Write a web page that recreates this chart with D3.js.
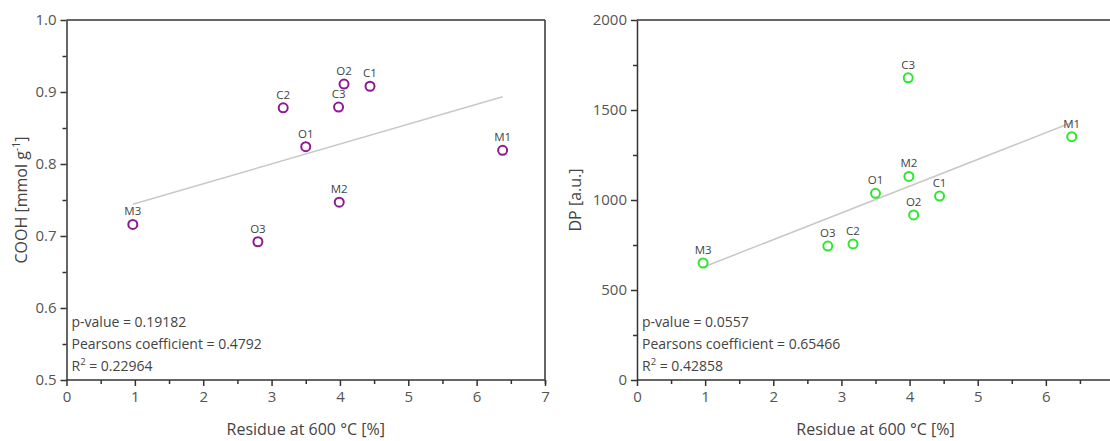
<!DOCTYPE html>
<html><head><meta charset="utf-8">
<script src="https://cdn.jsdelivr.net/npm/d3@7"></script>
<style>
body{margin:0;background:#fff;}
svg{display:block;font-family:"Open Sans",sans-serif;}
</style></head>
<body><svg id="c" width="1110" height="441"></svg>
<script>
const samples = ["M3","O3","C2","O1","C3","M2","O2","C1","M1"];
const residue = [0.97, 2.80, 3.17, 3.50, 3.98, 3.99, 4.06, 4.44, 6.38];
const cooh = [0.716, 0.692, 0.878, 0.824, 0.879, 0.747, 0.911, 0.908, 0.819];
const dp = [650, 744, 756, 1037, 1679, 1131, 917, 1022, 1352];
const statsLeft = ["p-value = 0.19182", "Pearsons coefficient = 0.4792", "0.22964"];
const statsRight = ["p-value = 0.0557", "Pearsons coefficient = 0.65466", "0.42858"];
const xTicksLeft = [0,1,2,3,4,5,6,7];
const xTicksRight = [0,1,2,3,4,5,6];
const yTicksLeft = [0.5,0.6,0.7,0.8,0.9,1.0];
const yTicksRight = [0,500,1000,1500,2000];

const svg = d3.select("#c");

function regression(xs, ys){
  const mx = d3.mean(xs), my = d3.mean(ys);
  let sxy = 0, sxx = 0;
  xs.forEach((x,i)=>{sxy += (x-mx)*(ys[i]-my); sxx += (x-mx)*(x-mx);});
  const b = sxy/sxx; return {a: my - b*mx, b};
}

function panel(opt){
  const g = svg.append("g");
  const x = d3.scaleLinear().domain([0,7]).range([opt.x0, opt.x1]);
  const y = d3.scaleLinear().domain(opt.ydom).range([380, 20]);
  const axisColor = "#333";
  g.append("line").attr("x1", x(0)).attr("x2", x(7)).attr("y1", y(opt.ydom[1])).attr("y2", y(opt.ydom[1]))
    .attr("stroke", axisColor).attr("stroke-width", 1.5);
  g.append("line").attr("x1", x(7)).attr("x2", x(7)).attr("y1", 20).attr("y2", 380)
    .attr("stroke", axisColor).attr("stroke-width", 1.5);
  const xMinor = d3.range(0.5, 7, 1);
  const yMinor = d3.range(0, opt.ytickVals.length-1).map(i => (opt.ytickVals[i]+opt.ytickVals[i+1])/2);
  const xm = g.append("g").attr("transform", `translate(0,380)`)
    .call(d3.axisBottom(x).tickValues(xMinor.concat([7])).tickSize(4).tickSizeOuter(0).tickFormat(""));
  const ym = g.append("g").attr("transform", `translate(${x(0)},0)`)
    .call(d3.axisLeft(y).tickValues(yMinor).tickSize(4).tickSizeOuter(0).tickFormat(""));
  [xm, ym].forEach(a => { a.select(".domain").remove(); a.selectAll("line").attr("stroke", axisColor).attr("stroke-width", 1.5); });
  const xa = g.append("g").attr("transform", `translate(0,380)`)
    .call(d3.axisBottom(x).tickValues(opt.xtickVals).tickSize(6).tickSizeOuter(0).tickPadding(5).tickFormat(d3.format("d")));
  const ya = g.append("g").attr("transform", `translate(${x(0)},0)`)
    .call(d3.axisLeft(y).tickValues(opt.ytickVals).tickSize(6).tickSizeOuter(0).tickPadding(4).tickFormat(opt.yfmt));
  xa.select(".domain").attr("d", `M${x(0)},0H${x(7)}`);
  [xa, ya].forEach(a => {
    a.select(".domain").attr("stroke", axisColor).attr("stroke-width", 1.5);
    a.selectAll("line").attr("stroke", axisColor).attr("stroke-width", 1.5);
    a.selectAll("text").attr("fill", "#555").attr("font-size", 15).attr("font-family", "Open Sans");
  });
  const ys = opt.values;
  const r = regression(residue, ys);
  const xmin = d3.min(residue), xmax = d3.max(residue);
  g.append("line").attr("x1", x(xmin)).attr("y1", y(r.a + r.b*xmin))
    .attr("x2", x(xmax)).attr("y2", y(r.a + r.b*xmax))
    .attr("stroke", "#c8c8c8").attr("stroke-width", 1.5);
  g.selectAll("circle.pt").data(residue).join("circle").attr("class","pt")
    .attr("cx", d => x(d)).attr("cy", (d,i) => y(ys[i])).attr("r", 4.5)
    .attr("fill", "none").attr("stroke", opt.color).attr("stroke-width", 2);
  g.selectAll("text.lbl").data(samples).join("text").attr("class","lbl")
    .attr("x", (d,i) => x(residue[i])).attr("y", (d,i) => y(ys[i]) - 9)
    .attr("text-anchor", "middle").attr("font-size", 11.5).attr("fill", "#444").text(d => d);
  const st = opt.stats;
  const tx = x(0) + 5;
  [322, 344].forEach((yy, i) => {
    g.append("text").attr("x", tx).attr("y", yy + 5).attr("font-size", 14).attr("fill", "#444").text(st[i]);
  });
  const rt = g.append("text").attr("x", tx).attr("y", 371).attr("font-size", 14).attr("fill", "#444");
  rt.append("tspan").text("R");
  rt.append("tspan").attr("dy", -6).attr("font-size", 9.5).text("2");
  rt.append("tspan").attr("dy", 6).text(" = " + st[2]);
  g.append("text").attr("x", (x(0)+x(7))/2).attr("y", 435).attr("text-anchor", "middle")
    .attr("font-size", 16).attr("fill", "#444").text("Residue at 600 °C [%]");
  const yt = g.append("text").attr("transform", `translate(${opt.ytitleX},200) rotate(-90)`)
    .attr("text-anchor", "middle").attr("font-size", 16).attr("fill", "#444");
  opt.ytitle(yt);
}

panel({x0: 66.5, x1: 545, xtickVals: xTicksLeft, ydom: [0.5, 1.0], ytickVals: yTicksLeft, yfmt: d3.format(".1f"),
  values: cooh, color: "#8e1a92", stats: statsLeft, ytitleX: 27,
  ytitle: t => { t.append("tspan").text("COOH [mmol g"); t.append("tspan").attr("dy", -7).attr("font-size", 10.5).text("-1");
    t.append("tspan").attr("dy", 7).text("]"); }});
panel({x0: 637, x1: 1114, xtickVals: xTicksRight, ydom: [0, 2000], ytickVals: yTicksRight, yfmt: d3.format("d"),
  values: dp, color: "#2ee82e", stats: statsRight, ytitleX: 581,
  ytitle: t => { t.text("DP [a.u.]"); }});
</script></body></html>
